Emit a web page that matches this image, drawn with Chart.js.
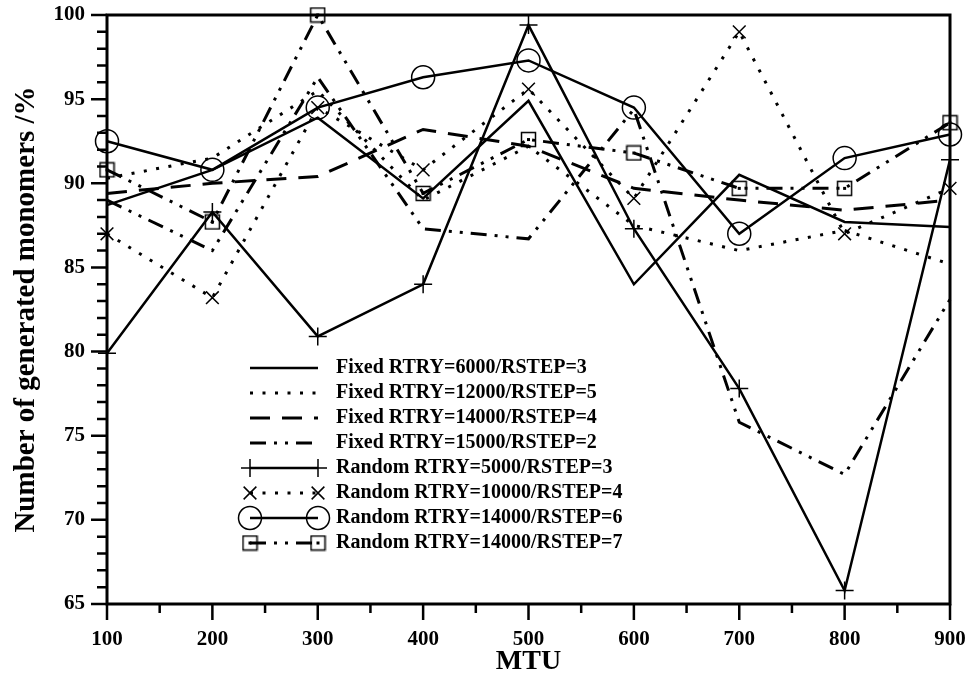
<!DOCTYPE html>
<html>
<head>
<meta charset="utf-8">
<script src="https://cdn.jsdelivr.net/npm/chart.js@4.4.0/dist/chart.umd.min.js"></script>
<style>
  html, body { margin: 0; padding: 0; background: #fff; }
</style>
</head>
<body>
<canvas id="monomerChart" width="970" height="676"></canvas>
<script>
/* ── data ── */
const mtu = [100, 200, 300, 400, 500, 600, 700, 800, 900];

const fixed6000  = [88.7, 90.8, 93.9, 89.1, 94.9, 84.0, 90.5, 87.7, 87.4];
const fixed12000 = [90.3, 91.5, 95.5, 89.0, 92.2, 87.5, 86.0, 87.2, 85.2];
const fixed14000 = [89.4, 90.0, 90.4, 93.2, 92.2, 89.7, 89.0, 88.4, 89.0];
const fixed15000 = [89.0, 86.0, 96.3, 87.3, 86.7, 94.4, 75.8, 72.7, 83.1];
const rand5000   = [79.9, 88.3, 80.9, 84.0, 99.4, 87.3, 77.8, 65.8, 91.4];
const rand10000  = [87.0, 83.2, 94.5, 90.8, 95.6, 89.1, 99.0, 87.0, 89.7];
const rand14000a = [92.5, 90.8, 94.5, 96.3, 97.3, 94.5, 87.0, 91.5, 92.9];
const rand14000b = [90.8, 87.7, 100.0, 89.4, 92.6, 91.8, 89.7, 89.7, 93.6];

const seriesLabels = [
  'Fixed RTRY=6000/RSTEP=3',
  'Fixed RTRY=12000/RSTEP=5',
  'Fixed RTRY=14000/RSTEP=4',
  'Fixed RTRY=15000/RSTEP=2',
  'Random RTRY=5000/RSTEP=3',
  'Random RTRY=10000/RSTEP=4',
  'Random RTRY=14000/RSTEP=6',
  'Random RTRY=14000/RSTEP=7',
];

const SERIF = "'Liberation Serif', 'Times New Roman', serif";

/* square marker with a dot in the middle */
function boxDotMarker() {
  const c = document.createElement('canvas');
  c.width = 17; c.height = 17;
  const g = c.getContext('2d');
  g.strokeStyle = '#000';
  g.lineWidth = 1.5;
  g.strokeRect(1.5, 1.5, 14, 14);
  g.fillStyle = '#000';
  g.fillRect(7, 7, 3, 3);
  return c;
}

const DOTS = [3, 9.5];
const LONG_DASH = [20, 12];
const DASH_DOT_DOT = [16, 8, 3, 8, 3, 8];

function series(label, values, style) {
  return Object.assign({
    label,
    data: mtu.map((m, i) => ({ x: m, y: values[i] })),
    borderColor: '#000',
    backgroundColor: 'transparent',
    pointBackgroundColor: 'transparent',
    pointBorderColor: '#000',
    pointBorderWidth: 1.5,
    pointRadius: 0,
    pointHoverRadius: 0,
    borderWidth: 2.5,
    borderCapStyle: 'butt',
    tension: 0,
    fill: false,
    clip: false,
  }, style);
}

const datasets = [
  series(seriesLabels[0], fixed6000, {}),
  series(seriesLabels[1], fixed12000, { borderDash: DOTS, borderWidth: 3 }),
  series(seriesLabels[2], fixed14000, { borderDash: LONG_DASH, borderWidth: 3 }),
  series(seriesLabels[3], fixed15000, { borderDash: DASH_DOT_DOT, borderWidth: 3 }),
  series(seriesLabels[4], rand5000, { pointStyle: 'cross', pointRadius: 9 }),
  series(seriesLabels[5], rand10000, { borderDash: DOTS, borderWidth: 3, pointStyle: 'crossRot', pointRadius: 9 }),
  series(seriesLabels[6], rand14000a, { pointStyle: 'circle', pointRadius: 11.5 }),
  series(seriesLabels[7], rand14000b, { borderDash: DASH_DOT_DOT, borderWidth: 3, pointStyle: boxDotMarker(), pointRadius: 8 }),
];

/* ── box frame + outward major/minor ticks ── */
const frameTicks = {
  id: 'frameTicks',
  afterDatasetsDraw(chart) {
    const { ctx, chartArea: a, scales: { x, y } } = chart;
    ctx.save();
    ctx.strokeStyle = '#000';
    ctx.lineWidth = 3;
    ctx.strokeRect(a.left, a.top, a.right - a.left, a.bottom - a.top);
    ctx.lineWidth = 2.5;
    ctx.beginPath();
    for (let v = x.min; v <= x.max; v += 50) {
      const px = x.getPixelForValue(v);
      const len = v % 100 === 0 ? 16 : 9;
      ctx.moveTo(px, a.bottom);
      ctx.lineTo(px, a.bottom + len);
    }
    for (let v = y.min; v <= y.max; v += 1) {
      const py = y.getPixelForValue(v);
      const len = v % 5 === 0 ? 16 : 10;
      ctx.moveTo(a.left, py);
      ctx.lineTo(a.left - len, py);
    }
    ctx.stroke();
    ctx.restore();
  }
};

/* ── legend with line samples inside the plot ── */
const sampleLegend = {
  id: 'sampleLegend',
  afterDraw(chart) {
    const ctx = chart.ctx;
    const x0 = 250, x1 = 318, textX = 336, top = 368, step = 25;
    ctx.save();
    ctx.font = `bold 20px ${SERIF}`;
    ctx.textBaseline = 'middle';
    chart.data.datasets.forEach((ds, i) => {
      const yy = top + i * step;
      ctx.strokeStyle = '#000';
      ctx.lineWidth = ds.borderWidth;
      ctx.lineCap = 'butt';
      ctx.setLineDash(ds.borderDash || []);
      ctx.beginPath();
      ctx.moveTo(x0, yy);
      ctx.lineTo(x1, yy);
      ctx.stroke();
      ctx.setLineDash([]);
      if (ds.pointRadius > 0) {
        ctx.lineWidth = ds.pointBorderWidth;
        ctx.fillStyle = 'rgba(0,0,0,0)';
        [x0, x1].forEach(px => Chart.helpers.drawPoint(ctx, {
          pointStyle: ds.pointStyle, radius: ds.pointRadius, borderWidth: ds.pointBorderWidth, rotation: 0
        }, px, yy));
      }
      ctx.fillStyle = '#000';
      ctx.fillText(ds.label, textX, yy);
    });
    ctx.restore();
  }
};

// fixed axis boxes; drop the automatic edge padding for end labels
function fitX(s) {
  s.height = 72;
  s.paddingLeft = 0;
  s.paddingRight = 0;
}
function fitY(s) {
  s.width = 107;
  s.paddingTop = 0;
  s.paddingBottom = 0;
}

new Chart(document.getElementById('monomerChart'), {
  type: 'line',
  data: { datasets },
  options: {
    responsive: false,
    animation: false,
    layout: { padding: { top: 15, right: 20, left: 0, bottom: 0 } },
    plugins: {
      legend: { display: false },
      tooltip: { enabled: false },
    },
    scales: {
      x: {
        type: 'linear',
        min: 100,
        max: 900,
        afterFit: fitX,
        grid: { display: false, drawTicks: false },
        border: { display: false },
        ticks: { stepSize: 100, padding: 23, color: '#000', font: { family: SERIF, size: 21, weight: 'bold' } },
        title: { display: true, text: 'MTU', color: '#000', padding: { top: 0, bottom: 0 }, font: { family: SERIF, size: 28, weight: 'bold', lineHeight: 1 } },
      },
      y: {
        min: 65,
        max: 100,
        afterFit: fitY,
        grid: { display: false, drawTicks: false },
        border: { display: false },
        ticks: { stepSize: 5, padding: 22, color: '#000', font: { family: SERIF, size: 21, weight: 'bold' } },
        title: { display: true, text: 'Number of generated monomers /%', color: '#000', padding: { top: 9, bottom: 0 }, font: { family: SERIF, size: 29, weight: 'bold' } },
      },
    },
  },
  plugins: [frameTicks, sampleLegend],
});
</script>
</body>
</html>
